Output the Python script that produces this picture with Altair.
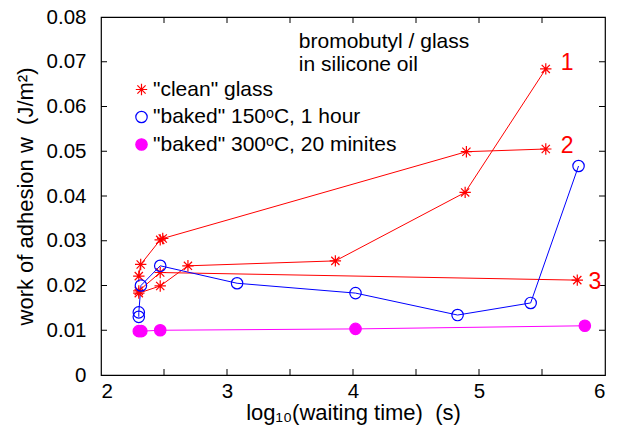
import altair as alt
import pandas as pd

# ---- data ----
# "clean" glass, three runs (curves 1, 2, 3)
c1_x = [2.30, 2.47, 2.69, 3.86, 4.89, 5.53]
c1_y = [0.0183, 0.0199, 0.0244, 0.0255, 0.0408, 0.0684]
c2_x = [2.30, 2.315, 2.47, 2.49, 4.90, 5.53]
c2_y = [0.0221, 0.0247, 0.0302, 0.0305, 0.0499, 0.0505]
c3_x = [2.30, 2.47, 5.78]
c3_y = [0.0188, 0.0229, 0.0212]
# "baked" 150C, 1 hour
b150_x = [2.30, 2.30, 2.317, 2.47, 3.08, 4.02, 4.83, 5.41, 5.79]
b150_y = [0.0130, 0.0140, 0.0200, 0.0244, 0.0205, 0.0183, 0.0134, 0.0161, 0.0467]
# "baked" 300C, 20 minutes
b300_x = [2.30, 2.32, 2.47, 4.02, 5.84]
b300_y = [0.0098, 0.0098, 0.0100, 0.0103, 0.0110]

groups = ['"clean" glass', '"baked" 150ᵒC, 1 hour', '"baked" 300ᵒC, 20 minites']
group_colors = ["#ff0000", "#0000ff", "#ff00ff"]
group_fills = ["transparent", "transparent", "#ff00ff"]

curve_labels = ["1", "2", "3"]
curve_label_x = [5.70, 5.70, 5.92]
curve_label_y = [0.0697, 0.0512, 0.0208]

note_lines = ["bromobutyl / glass", "in silicone oil"]
note_x = [3.57, 3.57]
note_y = [0.0730, 0.0680]

x_ticks = [2, 3, 4, 5, 6]
x_minor = [2.5, 3, 3.5, 4, 4.5, 5, 5.5]
y_ticks = [0, 0.01, 0.02, 0.03, 0.04, 0.05, 0.06, 0.07, 0.08]
y_minor = [0.01, 0.02, 0.03, 0.04, 0.05, 0.06, 0.07]

# ---- tables ----
series = [
    ("c1", groups[0], group_colors[0], c1_x, c1_y),
    ("c2", groups[0], group_colors[0], c2_x, c2_y),
    ("c3", groups[0], group_colors[0], c3_x, c3_y),
    ("b150", groups[1], group_colors[1], b150_x, b150_y),
    ("b300", groups[2], group_colors[2], b300_x, b300_y),
]
rows = []
for cid, grp, col, xs, ys in series:
    for i, (xv, yv) in enumerate(zip(xs, ys)):
        rows.append({"x": xv, "y": yv, "curve": cid, "group": grp, "order": i})
df = pd.DataFrame(rows)
curve_ids = [s[0] for s in series]
curve_cols = [s[2] for s in series]

labels_df = pd.DataFrame({"x": curve_label_x, "y": curve_label_y, "t": curve_labels})
note_df = pd.DataFrame({"x": note_x, "y": note_y, "t": note_lines})
xm_df = pd.DataFrame({"v": x_minor})
ym_df = pd.DataFrame({"v": y_minor})

FONT = "Liberation Sans"
W, H = 504, 358
STAR = "M-1,0L1,0M0,-1L0,1M-0.72,-0.72L0.72,0.72M-0.72,0.72L0.72,-0.72"
NB = "\u00a0"

xscale = alt.Scale(domain=[2, 6], nice=False, zero=False)
yscale = alt.Scale(domain=[0, 0.08], nice=False, zero=False)

xaxis = alt.Axis(values=x_ticks, tickSize=0, domain=False, grid=False, labelPadding=6,
                 labelFontSize=20.5, labelFont=FONT, labelColor="black",
                 title=f"log₁₀(waiting time){NB}{NB}(s)", titleFontSize=22, titleFont=FONT,
                 titleFontWeight="normal", titleColor="black", titlePadding=1, format="d")
yaxis = alt.Axis(values=y_ticks, tickSize=0, domain=False, grid=False, labelPadding=15,
                 labelFontSize=20.5, labelFont=FONT, labelColor="black",
                 labelExpr="datum.value == 0 ? '0' : format(datum.value, '.2f')",
                 title=f"work of adhesion w{NB}{NB}(J/m²)", titleFontSize=22, titleFont=FONT,
                 titleFontWeight="normal", titleColor="black", titlePadding=9)

lines = alt.Chart(df).mark_line(strokeWidth=1).encode(
    x=alt.X("x:Q", scale=xscale, axis=xaxis),
    y=alt.Y("y:Q", scale=yscale, axis=yaxis),
    color=alt.Color("curve:N", scale=alt.Scale(domain=curve_ids, range=curve_cols), legend=None),
    order="order:Q",
)

leg = alt.Legend(orient="none", legendX=30, legendY=62, title=None, labelFontSize=21,
                 labelFont=FONT, labelColor="black", symbolStrokeWidth=1.2, symbolSize=130,
                 rowPadding=5.5, labelOffset=1, padding=0, labelLimit=0)

points = alt.Chart(df).mark_point(strokeWidth=1.2, opacity=1, size=130).encode(
    x="x:Q",
    y="y:Q",
    shape=alt.Shape("group:N", scale=alt.Scale(domain=groups, range=[STAR, "circle", "circle"]), legend=leg),
    stroke=alt.Stroke("group:N", scale=alt.Scale(domain=groups, range=group_colors), legend=leg),
    fill=alt.Fill("group:N", scale=alt.Scale(domain=groups, range=group_fills), legend=leg),
)

curve_text = alt.Chart(labels_df).mark_text(fontSize=23, font=FONT, color="#ff0000",
                                             align="center", baseline="middle").encode(
    x="x:Q", y="y:Q", text="t:N")

note_text = alt.Chart(note_df).mark_text(fontSize=21, font=FONT, color="black",
                                          align="left", baseline="alphabetic").encode(
    x="x:Q", y="y:Q", text="t:N")

tick_bottom = alt.Chart(xm_df).mark_rule(color="black", strokeWidth=1).encode(
    x="v:Q", y=alt.value(H), y2=alt.value(H - 6))
tick_top = alt.Chart(xm_df).mark_rule(color="black", strokeWidth=1).encode(
    x="v:Q", y=alt.value(0), y2=alt.value(6))
tick_left = alt.Chart(ym_df).mark_rule(color="black", strokeWidth=1).encode(
    y="v:Q", x=alt.value(0), x2=alt.value(6))
tick_right = alt.Chart(ym_df).mark_rule(color="black", strokeWidth=1).encode(
    y="v:Q", x=alt.value(W - 6), x2=alt.value(W))

chart = alt.layer(
    lines, tick_bottom, tick_top, tick_left, tick_right, points, curve_text, note_text
).properties(
    width=W, height=H,
    autosize=alt.AutoSizeParams(type="none"),
    padding={"left": 93, "top": 9, "right": 16, "bottom": 54},
    background="white",
).configure_view(stroke="black", strokeWidth=1.2)

chart.save("out.html", embed_options={"renderer": "svg", "actions": False})
